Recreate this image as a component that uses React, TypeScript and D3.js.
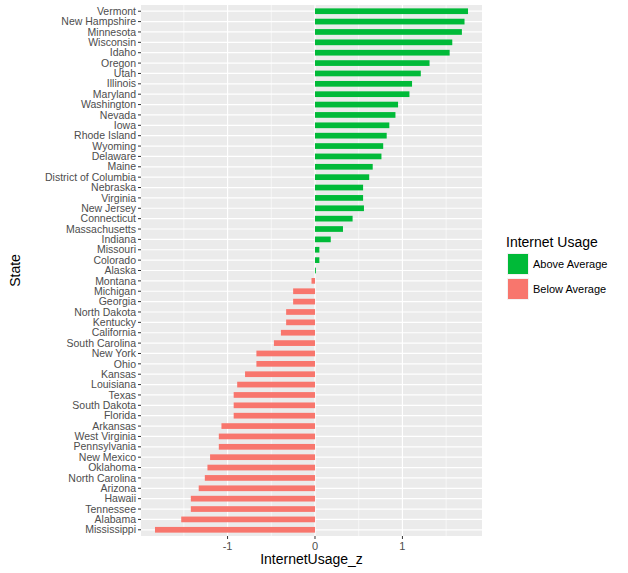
import React from "react";
import * as d3 from "d3";

const states = ["Vermont","New Hampshire","Minnesota","Wisconsin","Idaho","Oregon","Utah","Illinois","Maryland","Washington","Nevada","Iowa","Rhode Island","Wyoming","Delaware","Maine","District of Columbia","Nebraska","Virginia","New Jersey","Connecticut","Massachusetts","Indiana","Missouri","Colorado","Alaska","Montana","Michigan","Georgia","North Dakota","Kentucky","California","South Carolina","New York","Ohio","Kansas","Louisiana","Texas","South Dakota","Florida","Arkansas","West Virginia","Pennsylvania","New Mexico","Oklahoma","North Carolina","Arizona","Hawaii","Tennessee","Alabama","Mississippi"];
const values = [1.75,1.71,1.68,1.57,1.54,1.31,1.21,1.11,1.08,0.95,0.92,0.85,0.82,0.78,0.76,0.66,0.62,0.55,0.55,0.56,0.43,0.32,0.18,0.05,0.05,0.01,-0.04,-0.25,-0.25,-0.33,-0.33,-0.39,-0.47,-0.67,-0.67,-0.8,-0.89,-0.93,-0.93,-0.93,-1.07,-1.1,-1.1,-1.2,-1.23,-1.26,-1.33,-1.42,-1.42,-1.53,-1.83];
const xTicks = [-1, 0, 1];
const xMinor = [-1.5, -0.5, 0.5, 1.5];
const groups = ["Above Average", "Below Average"];
const colors = ["#00BA38", "#F8766D"];

const W = 628, H = 573;
const P = { l: 141, r: 482, t: 5, b: 536 };

export default function App() {
  const x = d3.scaleLinear().domain([-1.99, 1.91]).range([P.l, P.r]);
  // ggplot discrete axis: 0.6 unit expansion at each end, bars 0.6 wide
  const step = (P.b - P.t) / (states.length - 1 + 1.2);
  const cy = (i: number) => P.t + step * (0.6 + i);
  const bh = step * 0.55;
  const font = "Arial, 'Liberation Sans', sans-serif";
  return (
    <svg width={W} height={H} style={{ position: "absolute", left: 0, top: 0 }} fontFamily={font}>
      <rect width={W} height={H} fill="#fff" />
      <rect x={P.l} y={P.t} width={P.r - P.l} height={P.b - P.t} fill="#EBEBEB" />
      {xMinor.map(t => <line key={t} x1={x(t)} x2={x(t)} y1={P.t} y2={P.b} stroke="#fff" strokeWidth={0.6} />)}
      {xTicks.map(t => <line key={t} x1={x(t)} x2={x(t)} y1={P.t} y2={P.b} stroke="#fff" strokeWidth={1.2} />)}
      {states.map((s, i) => <line key={s} x1={P.l} x2={P.r} y1={cy(i)} y2={cy(i)} stroke="#fff" strokeWidth={1.2} />)}
      {states.map((s, i) => {
        const v = values[i];
        return <rect key={s} x={x(Math.min(0, v))} y={cy(i) - bh / 2} width={Math.abs(x(v) - x(0))} height={bh} fill={v >= 0 ? colors[0] : colors[1]} />;
      })}
      {states.map((s, i) => (
        <g key={s}>
          <line x1={P.l - 3} x2={P.l} y1={cy(i)} y2={cy(i)} stroke="#333" />
          <text x={P.l - 5} y={cy(i)} dy="0.35em" textAnchor="end" fontSize={10.5} fill="#4D4D4D">{s}</text>
        </g>
      ))}
      {xTicks.map(t => (
        <g key={t}>
          <line x1={x(t)} x2={x(t)} y1={P.b} y2={P.b + 3} stroke="#333" />
          <text x={x(t)} y={P.b + 14} textAnchor="middle" fontSize={11} fill="#4D4D4D">{t}</text>
        </g>
      ))}
      <text x={(P.l + P.r) / 2} y={564} textAnchor="middle" fontSize={14} fill="#000">InternetUsage_z</text>
      <text transform={`translate(20,${(P.t + P.b) / 2}) rotate(-90)`} textAnchor="middle" fontSize={14} fill="#000">State</text>
      <text x={506} y={247} fontSize={14} fill="#000">Internet Usage</text>
      {groups.map((g, i) => (
        <g key={g} transform={`translate(507,${253 + i * 25})`}>
          <rect width={22} height={22} fill="#F2F2F2" />
          <rect x={1} y={1} width={20} height={20} fill={colors[i]} />
          <text x={26} y={11} dy="0.35em" fontSize={11} fill="#000">{g}</text>
        </g>
      ))}
    </svg>
  );
}
